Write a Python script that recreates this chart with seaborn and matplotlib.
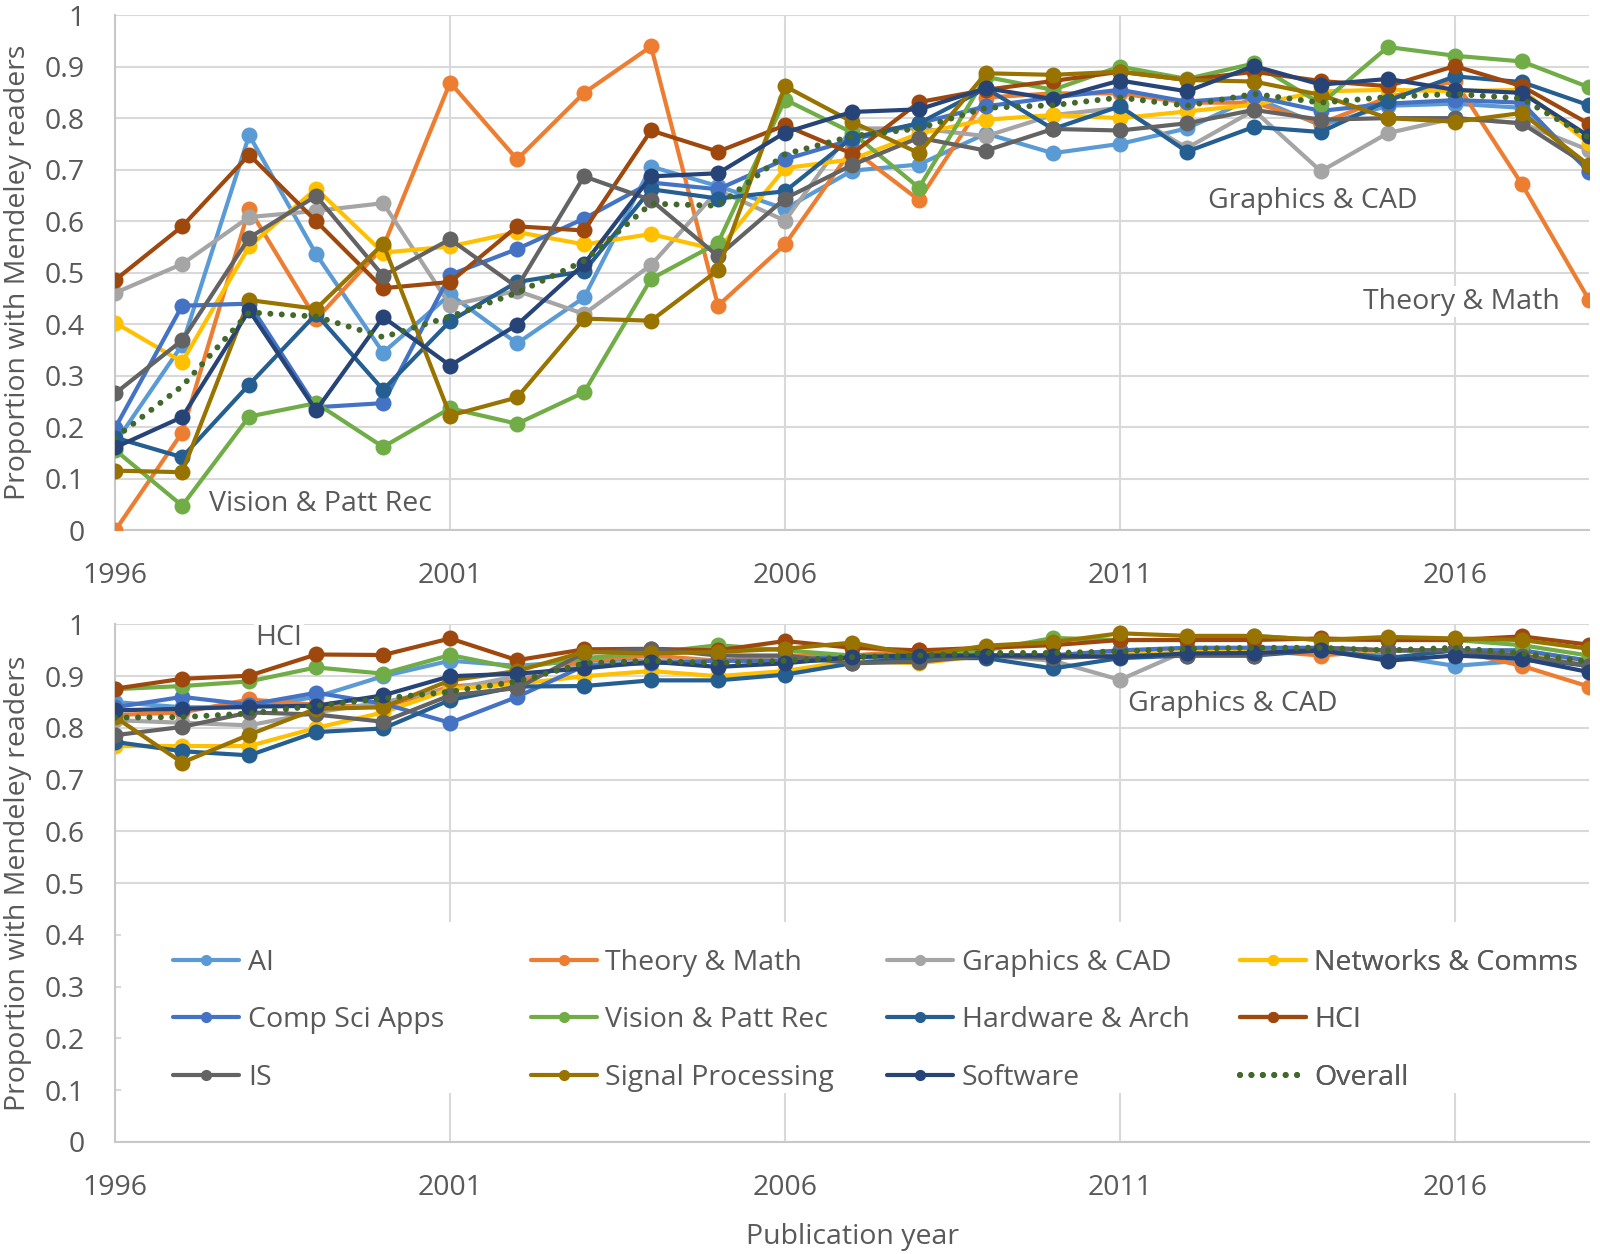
import matplotlib
matplotlib.use("Agg")
import matplotlib.pyplot as plt
from matplotlib.patches import Rectangle
import seaborn as sns

years = list(range(1996, 2019))

names = ["AI", "Theory & Math", "Graphics & CAD", "Networks & Comms",
         "Comp Sci Apps", "Vision & Patt Rec", "Hardware & Arch", "HCI",
         "IS", "Signal Processing", "Software", "Overall"]

colors = ["#5B9BD5", "#ED7D31", "#A5A5A5", "#FFC000",
          "#4472C4", "#70AD47", "#255E91", "#9E480E",
          "#636363", "#997300", "#264478", "#43682B"]

# Top panel values
top_ai = [0.17, 0.36, 0.767, 0.536, 0.345, 0.458, 0.363, 0.452, 0.706, 0.668, 0.624, 0.698, 0.71, 0.77, 0.732, 0.75, 0.78, 0.84, 0.786, 0.824, 0.828, 0.82, 0.698]
top_theory = [0.0, 0.19, 0.624, 0.41, 0.55, 0.869, 0.72, 0.849, 0.939, 0.436, 0.555, 0.74, 0.641, 0.84, 0.848, 0.848, 0.83, 0.83, 0.79, 0.84, 0.872, 0.672, 0.448]
top_graphics = [0.461, 0.517, 0.608, 0.62, 0.635, 0.437, 0.465, 0.42, 0.515, 0.66, 0.601, 0.78, 0.78, 0.765, 0.806, 0.82, 0.742, 0.815, 0.697, 0.771, 0.80, 0.79, 0.738]
top_networks = [0.403, 0.327, 0.551, 0.663, 0.539, 0.551, 0.579, 0.555, 0.575, 0.544, 0.703, 0.72, 0.77, 0.797, 0.806, 0.80, 0.813, 0.826, 0.852, 0.855, 0.852, 0.855, 0.751]
top_compsci = [0.199, 0.436, 0.44, 0.239, 0.247, 0.496, 0.546, 0.605, 0.675, 0.662, 0.72, 0.758, 0.79, 0.823, 0.84, 0.855, 0.832, 0.842, 0.814, 0.828, 0.835, 0.83, 0.696]
top_vision = [0.156, 0.048, 0.221, 0.247, 0.162, 0.237, 0.207, 0.268, 0.488, 0.558, 0.836, 0.772, 0.665, 0.88, 0.855, 0.90, 0.876, 0.906, 0.828, 0.938, 0.921, 0.91, 0.86]
top_hardware = [0.18, 0.142, 0.283, 0.42, 0.273, 0.406, 0.482, 0.503, 0.662, 0.644, 0.658, 0.762, 0.79, 0.858, 0.779, 0.823, 0.735, 0.783, 0.773, 0.834, 0.881, 0.87, 0.825]
top_hci = [0.486, 0.59, 0.729, 0.60, 0.47, 0.482, 0.59, 0.582, 0.776, 0.735, 0.786, 0.731, 0.831, 0.855, 0.872, 0.89, 0.874, 0.89, 0.872, 0.862, 0.901, 0.862, 0.789]
top_is = [0.266, 0.369, 0.568, 0.649, 0.494, 0.565, 0.472, 0.687, 0.641, 0.532, 0.644, 0.709, 0.762, 0.737, 0.779, 0.776, 0.79, 0.816, 0.797, 0.80, 0.80, 0.79, 0.707]
top_signal = [0.116, 0.113, 0.447, 0.43, 0.556, 0.223, 0.258, 0.411, 0.407, 0.505, 0.862, 0.793, 0.732, 0.887, 0.884, 0.89, 0.874, 0.871, 0.845, 0.80, 0.793, 0.81, 0.709]
top_software = [0.161, 0.22, 0.427, 0.233, 0.414, 0.32, 0.399, 0.517, 0.687, 0.693, 0.772, 0.812, 0.817, 0.858, 0.837, 0.873, 0.852, 0.901, 0.865, 0.876, 0.855, 0.849, 0.765]
top_overall = [0.18, 0.28, 0.423, 0.415, 0.375, 0.415, 0.461, 0.523, 0.634, 0.63, 0.73, 0.765, 0.78, 0.82, 0.825, 0.84, 0.824, 0.847, 0.83, 0.841, 0.847, 0.838, 0.762]

# Bottom panel values
bot_ai = [0.85, 0.84, 0.84, 0.86, 0.90, 0.93, 0.92, 0.93, 0.93, 0.93, 0.93, 0.93, 0.94, 0.94, 0.94, 0.94, 0.95, 0.95, 0.95, 0.94, 0.92, 0.93, 0.93]
bot_theory = [0.825, 0.83, 0.855, 0.845, 0.84, 0.88, 0.89, 0.93, 0.94, 0.93, 0.94, 0.94, 0.95, 0.94, 0.94, 0.95, 0.95, 0.95, 0.94, 0.95, 0.95, 0.92, 0.88]
bot_graphics = [0.815, 0.81, 0.805, 0.83, 0.85, 0.875, 0.90, 0.92, 0.93, 0.93, 0.93, 0.93, 0.93, 0.94, 0.93, 0.893, 0.95, 0.95, 0.95, 0.95, 0.95, 0.95, 0.93]
bot_networks = [0.765, 0.765, 0.765, 0.80, 0.83, 0.875, 0.885, 0.90, 0.91, 0.90, 0.91, 0.93, 0.925, 0.94, 0.94, 0.945, 0.95, 0.95, 0.95, 0.95, 0.95, 0.94, 0.93]
bot_compsci = [0.84, 0.86, 0.845, 0.868, 0.847, 0.81, 0.86, 0.92, 0.925, 0.93, 0.93, 0.94, 0.94, 0.94, 0.94, 0.95, 0.955, 0.955, 0.955, 0.95, 0.95, 0.95, 0.93]
bot_vision = [0.875, 0.881, 0.89, 0.917, 0.905, 0.941, 0.915, 0.935, 0.945, 0.96, 0.95, 0.94, 0.94, 0.95, 0.974, 0.97, 0.97, 0.978, 0.97, 0.97, 0.97, 0.96, 0.94]
bot_hardware = [0.773, 0.755, 0.747, 0.792, 0.799, 0.854, 0.88, 0.881, 0.892, 0.892, 0.903, 0.925, 0.935, 0.935, 0.915, 0.935, 0.94, 0.94, 0.95, 0.935, 0.95, 0.935, 0.92]
bot_hci = [0.876, 0.895, 0.901, 0.942, 0.941, 0.973, 0.931, 0.952, 0.953, 0.95, 0.968, 0.955, 0.95, 0.955, 0.96, 0.97, 0.97, 0.97, 0.973, 0.97, 0.97, 0.977, 0.961]
bot_is = [0.786, 0.802, 0.83, 0.826, 0.812, 0.863, 0.877, 0.945, 0.953, 0.94, 0.94, 0.925, 0.928, 0.94, 0.935, 0.94, 0.94, 0.94, 0.955, 0.95, 0.95, 0.94, 0.92]
bot_signal = [0.821, 0.733, 0.787, 0.837, 0.84, 0.892, 0.91, 0.947, 0.944, 0.947, 0.953, 0.965, 0.94, 0.959, 0.966, 0.983, 0.978, 0.978, 0.97, 0.976, 0.973, 0.97, 0.953]
bot_software = [0.834, 0.837, 0.841, 0.843, 0.863, 0.90, 0.905, 0.915, 0.928, 0.918, 0.925, 0.937, 0.94, 0.94, 0.94, 0.937, 0.944, 0.945, 0.95, 0.93, 0.94, 0.934, 0.908]
bot_overall = [0.82, 0.821, 0.828, 0.843, 0.857, 0.87, 0.89, 0.925, 0.93, 0.925, 0.93, 0.937, 0.94, 0.945, 0.945, 0.948, 0.953, 0.955, 0.955, 0.95, 0.955, 0.944, 0.928]

top_series = [top_ai, top_theory, top_graphics, top_networks, top_compsci, top_vision,
              top_hardware, top_hci, top_is, top_signal, top_software, top_overall]
bot_series = [bot_ai, bot_theory, bot_graphics, bot_networks, bot_compsci, bot_vision,
              bot_hardware, bot_hci, bot_is, bot_signal, bot_software, bot_overall]

xticks = [1996, 2001, 2006, 2011, 2016]
yticks = [0, 0.1, 0.2, 0.3, 0.4, 0.5, 0.6, 0.7, 0.8, 0.9, 1.0]
ytick_labels = ["0", "0.1", "0.2", "0.3", "0.4", "0.5", "0.6", "0.7", "0.8", "0.9", "1"]

sns.set_theme(style="white")
plt.rcParams['font.family'] = ['Open Sans', 'DejaVu Sans']

TXT = "#595959"
GRID = "#D9D9D9"
FS = 20.5

fig = plt.figure(figsize=(16, 12.54), dpi=100)
ax_top = fig.add_axes([0.072, 0.577, 0.921, 0.411])
ax_bot = fig.add_axes([0.072, 0.0895, 0.921, 0.4125])

def draw(ax, series):
    handles = []
    for name, vals, c in zip(names, series, colors):
        if name == "Overall":
            sns.lineplot(x=years, y=vals, ax=ax, color=c, linewidth=4.3,
                         linestyle=(0, (0.01, 1.9)), dash_capstyle='round',
                         label=name, legend=False, zorder=5)
        else:
            sns.lineplot(x=years, y=vals, ax=ax, color=c, linewidth=3.0,
                         marker='o', markersize=11.5, markeredgewidth=0,
                         label=name, legend=False, zorder=3)
        handles.append(ax.get_lines()[-1])
    ax.set_xlim(1996, 2018)
    ax.set_ylim(0, 1)
    ax.set_xticks(xticks)
    ax.set_xticklabels([str(x) for x in xticks])
    ax.set_yticks(yticks)
    ax.set_yticklabels(ytick_labels)
    ax.tick_params(axis='both', length=0, labelsize=FS, colors=TXT)
    ax.tick_params(axis='x', pad=23)
    ax.tick_params(axis='y', pad=22)
    ax.grid(True, color=GRID, linewidth=1.5, zorder=0)
    ax.set_axisbelow(True)
    for s in ["top", "right"]:
        ax.spines[s].set_visible(False)
    for s in ["bottom", "left"]:
        ax.spines[s].set_color("#C8C8C8")
        ax.spines[s].set_linewidth(1.5)
    ax.set_ylabel("Proportion with Mendeley readers", fontsize=FS, color=TXT, labelpad=9)
    ax.set_xlabel("")
    return handles

draw(ax_top, top_series)
handles = draw(ax_bot, bot_series)
ax_bot.set_xlabel("Publication year", fontsize=FS, color=TXT, labelpad=15)

box = dict(facecolor="white", edgecolor="none", pad=1)
ax_top.text(1997.4, 0.051, "Vision & Patt Rec", fontsize=FS, color=TXT, va="center", ha="left", bbox=box, zorder=6)
ax_top.text(2012.31, 0.64, "Graphics & CAD", fontsize=FS, color=TXT, va="center", ha="left", bbox=box, zorder=6)
ax_top.text(2014.63, 0.444, "Theory & Math", fontsize=FS, color=TXT, va="center", ha="left", bbox=box, zorder=2)
ax_bot.text(1998.09, 0.974, "HCI", fontsize=FS, color=TXT, va="center", ha="left", bbox=box, zorder=2)
ax_bot.text(2011.12, 0.846, "Graphics & CAD", fontsize=FS, color=TXT, va="center", ha="left", bbox=box, zorder=2)

# legend background (white box covering gridlines)
ax_bot.add_patch(Rectangle((0.004, 0.094), 0.996, 0.331, transform=ax_bot.transAxes,
                           facecolor="white", edgecolor="none", zorder=1.5))

col_x = [0.0395, 0.282, 0.524, 0.763]
for j in range(4):
    idx = [j, j + 4, j + 8]
    leg = ax_bot.legend([handles[i] for i in idx], [names[i] for i in idx],
                        loc="center left", bbox_to_anchor=(col_x[j], 0.235),
                        frameon=False, fontsize=FS, handlelength=2.32,
                        handletextpad=0.3, labelspacing=1.03, borderpad=0,
                        borderaxespad=0, numpoints=1, markerscale=0.7)
    for t in leg.get_texts():
        t.set_color(TXT)
    leg.set_zorder(10)
    ax_bot.add_artist(leg)

fig.savefig("out.png", dpi=100)
